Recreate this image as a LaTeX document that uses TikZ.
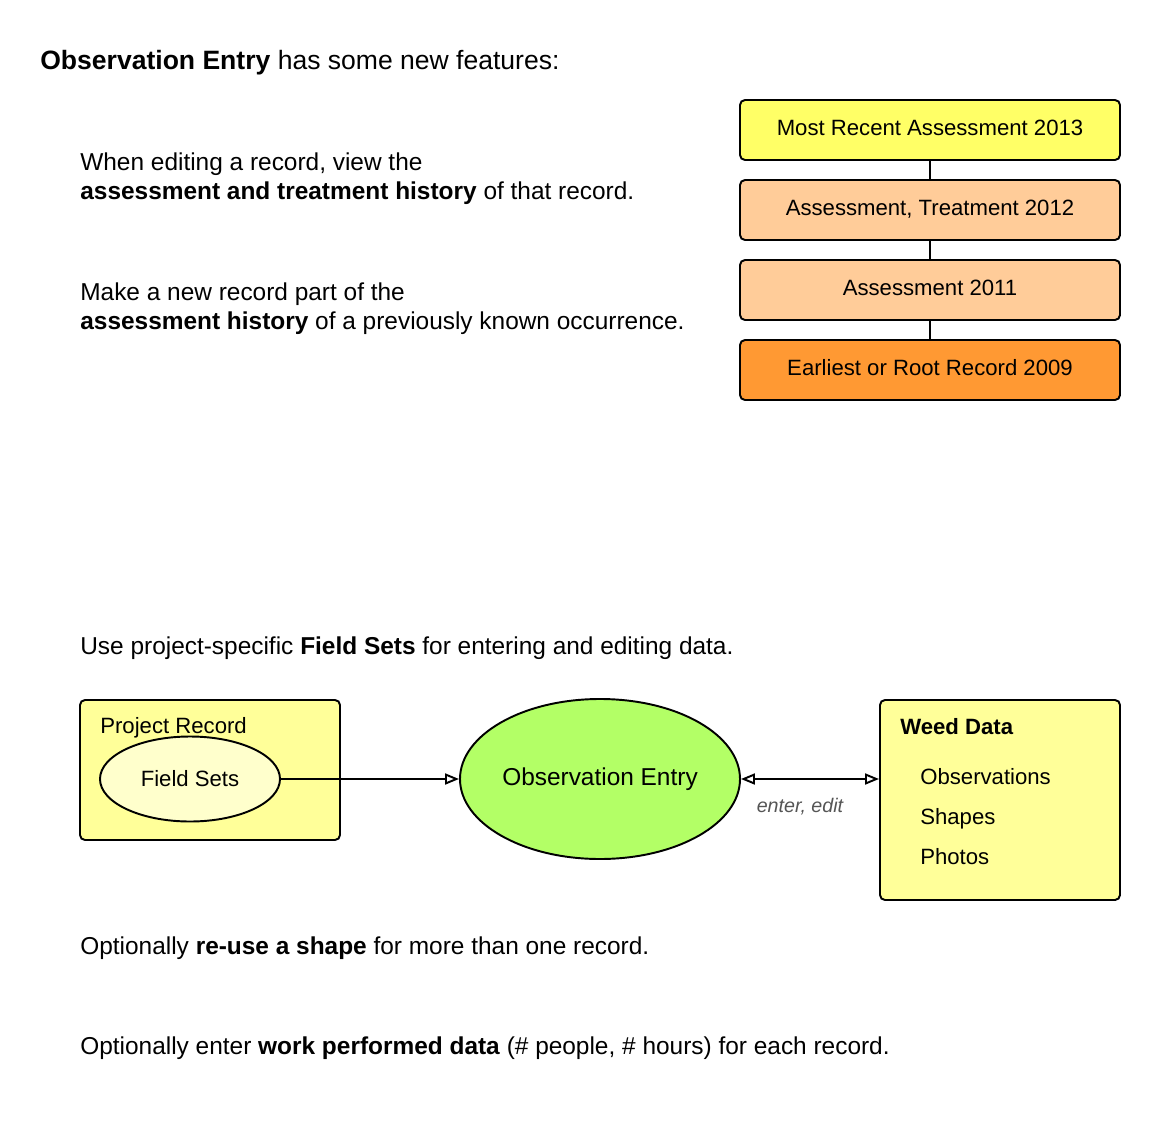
\documentclass[tikz,border=0pt]{standalone}
\usepackage{fontspec}
\setmainfont{Liberation Sans}
\usetikzlibrary{arrows.meta,positioning,shapes.geometric}
\definecolor{recent}{HTML}{FFFF66}
\definecolor{older}{HTML}{FFCC99}
\definecolor{root}{HTML}{FF9933}
\definecolor{proj}{HTML}{FFFF99}
\definecolor{fset}{HTML}{FFFFCC}
\definecolor{obsgreen}{HTML}{B3FF66}
\definecolor{lbl}{HTML}{555555}
\begin{document}
\begin{tikzpicture}[x=0.2mm,y=-0.2mm,
		txt/.style={anchor=base west, inner sep=0pt, font=\fontsize{13.9}{16.4}\selectfont},
		sm/.style={font=\fontsize{12.6}{14}\selectfont},
		hist/.style={draw, line width=1.1pt, rounded corners=1mm, minimum width=76mm, minimum height=12mm, text height=3.2mm, text depth=1.2mm, sm},
		box/.style={draw, line width=1.1pt, rounded corners=1mm, fill=proj},
		oval/.style={ellipse, draw, line width=1.1pt, inner sep=0pt},
		ln/.style={line width=1.1pt},
		arr/.style={line width=1.1pt, -{Triangle[open,length=2.8mm,width=2.2mm]}},
		darr/.style={line width=1.1pt, {Triangle[open,length=2.8mm,width=2.2mm]}-{Triangle[open,length=2.8mm,width=2.2mm]}}
		]
		\useasboundingbox (0,0) rectangle (1160,1140);
		% heading and feature notes
		\node[txt, font=\fontsize{15.1}{18}\selectfont] (title) at (40,69.5) {\textbf{Observation Entry} has some new features:};
		\node[txt] (n1a) at (80,170.8) {When editing a record, view the};
		\node[txt] (n1b) at (80,199.8) {\textbf{assessment and treatment history} of that record.};
		\node[txt] (n2a) at (80,300.8) {Make a new record part of the};
		\node[txt] (n2b) at (80,329.8) {\textbf{assessment history} of a previously known occurrence.};
		\node[txt] (n3) at (80,654.8) {Use project-specific \textbf{Field Sets} for entering and editing data.};
		\node[txt] (n4) at (80,954.8) {Optionally \textbf{re-use a shape} for more than one record.};
		\node[txt] (n5) at (80,1054.8) {Optionally enter \textbf{work performed data} (\# people, \# hours) for each record.};
		% history chain
		\node[hist, fill=recent] (h1) at (930,130) {Most Recent Assessment 2013};
		\node[hist, fill=older] (h2) at (930,210) {Assessment, Treatment 2012};
		\node[hist, fill=older] (h3) at (930,290) {Assessment 2011};
		\node[hist, fill=root] (h4) at (930,370) {Earliest or Root Record 2009};
		\draw[ln] (h1) -- (h2);
		\draw[ln] (h2) -- (h3);
		\draw[ln] (h3) -- (h4);
		% field sets diagram
		\node[box, minimum width=52mm, minimum height=28mm] (prj) at (210,770) {};
		\node[txt, sm] (prjlab) at (100,733.9) {Project Record};
		\node[oval, fill=fset, minimum width=36mm, minimum height=17mm, sm] (fs) at (190,779) {Field Sets};
		\node[oval, fill=obsgreen, minimum width=56mm, minimum height=32mm, font=\fontsize{13.9}{16}\selectfont] (obs) at (600,779) {Observation Entry};
		\node[box, minimum width=48mm, minimum height=40mm] (wd) at (1000,800) {};
		\node[txt, font=\bfseries\fontsize{12.6}{14}\selectfont] (wdlab) at (900,734.9) {Weed Data};
		\node[txt, sm] (w1) at (920,784.9) {Observations};
		\node[txt, sm] (w2) at (920,824.9) {Shapes};
		\node[txt, sm] (w3) at (920,864.9) {Photos};
		\draw[arr] (fs) -- (obs);
		\draw[darr] (obs.east) -- (wd.west |- obs.east);
		\node[font=\itshape\fontsize{11.2}{13}\selectfont, text=lbl] (ee) at (800,807) {enter, edit};
	\end{tikzpicture}
\end{document}
